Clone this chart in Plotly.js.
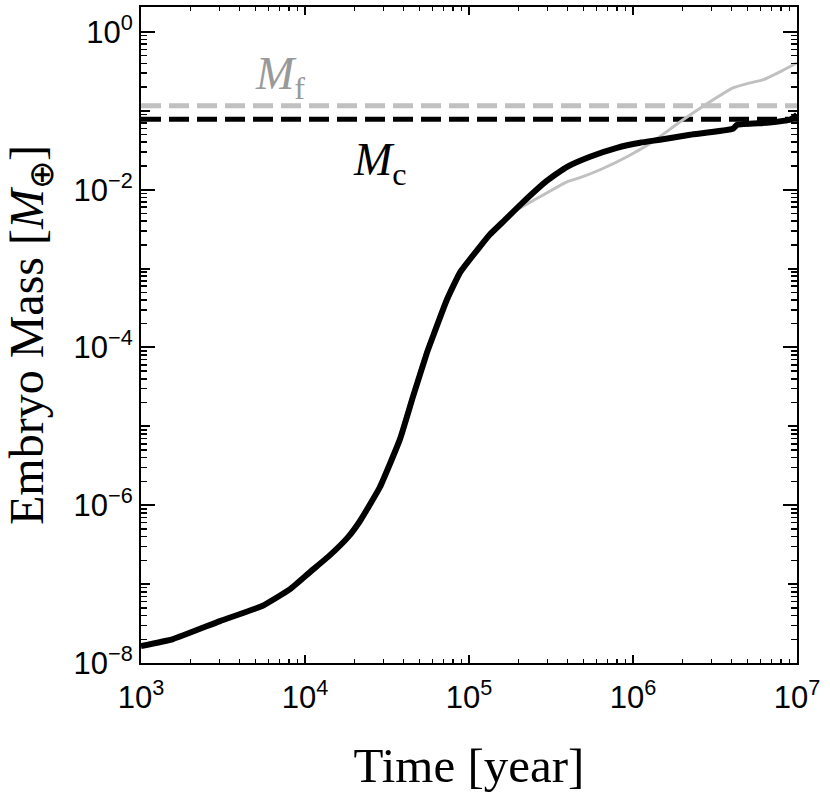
<!DOCTYPE html>
<html>
<head>
<meta charset="utf-8">
<script src="https://cdn.plot.ly/plotly-3.0.1.min.js"></script>
<style>
  body { margin: 0; background: #fff; }
  #graph { width: 830px; height: 797px; }
</style>
</head>
<body>
<div id="graph"></div>
<script>
// black curve (embryo mass vs time)
const timeBlack = [1000, 1567, 3033, 5470, 8110, 10720, 14200, 18300, 21600, 28600,
  37900, 45600, 55500, 60300, 73400, 88100, 116700, 134000, 161000, 213000, 299000,
  396000, 547000, 798000, 1104000, 1460000, 2230000, 4070000, 4310000, 6560000, 9060000, 10000000];
const massBlack = [1.64e-8, 2.01e-8, 3.40e-8, 5.27e-8, 8.65e-8, 1.42e-7, 2.33e-7, 3.94e-7, 6.27e-7, 1.69e-6,
  6.84e-6, 2.40e-5, 8.65e-5, 1.38e-4, 4.05e-4, 8.9e-4, 1.90e-3, 2.7e-3, 3.90e-3, 6.9e-3, 1.3e-2,
  1.95e-2, 2.62e-2, 3.40e-2, 3.94e-2, 4.30e-2, 4.97e-2, 5.92e-2, 6.65e-2, 7.05e-2, 7.69e-2, 8.9e-2];

// gray curve
const timeGray = [1000, 1567, 3033, 5470, 8110, 10720, 14200, 18300, 21600, 28600,
  37900, 45600, 55500, 73400, 88100, 116700, 161000, 185000, 271000, 396000,
  475000, 630000, 920000, 1320000, 1940000, 2950000, 4070000, 5170000, 6200000, 7870000, 10000000];
const massGray = [1.64e-8, 2.01e-8, 3.40e-8, 5.27e-8, 8.65e-8, 1.42e-7, 2.33e-7, 4.1e-7, 6.7e-7, 1.85e-6,
  7.6e-6, 2.7e-5, 9.6e-5, 4.5e-4, 9.6e-4, 1.95e-3, 3.8e-3, 5.11e-3, 8.15e-3, 1.26e-2,
  1.42e-2, 1.79e-2, 2.62e-2, 4.05e-2, 7.26e-2, 0.130, 0.195, 0.226, 0.247, 0.312, 0.405];

// critical masses
const massF = 0.1157;
const massC = 0.078;
const timeSpan = [1000, 10000000];

// axis ticks
const xTickVals = [1e3, 1e4, 1e5, 1e6, 1e7];
const xTickText = ['10<sup>3</sup>', '10<sup>4</sup>', '10<sup>5</sup>', '10<sup>6</sup>', '10<sup>7</sup>'];
const yTickVals = [1e-8, 1e-6, 1e-4, 1e-2, 1e0];
const yTickText = ['10<sup>\u22128</sup>', '10<sup>\u22126</sup>', '10<sup>\u22124</sup>', '10<sup>\u22122</sup>', '10<sup>0</sup>'];
const yMidVals = [1e-7, 1e-5, 1e-3, 1e-1];

function minorVals(lo, hi) {
  const out = [];
  for (let e = lo; e < hi; e++) {
    for (let k = 2; k <= 9; k++) out.push(k * Math.pow(10, e));
  }
  return out;
}

const traces = [
  { x: timeSpan, y: [massF, massF], type: 'scatter', mode: 'lines',
    line: { color: '#c0c0c0', width: 5, dash: '20px,8px' }, hoverinfo: 'skip' },
  { x: timeSpan, y: [massC, massC], type: 'scatter', mode: 'lines',
    line: { color: '#000', width: 5, dash: '20px,8px' }, hoverinfo: 'skip' },
  { x: timeGray, y: massGray, type: 'scatter', mode: 'lines',
    line: { color: '#c0c0c0', width: 3, shape: 'spline', smoothing: 0.4 } },
  { x: timeBlack, y: massBlack, type: 'scatter', mode: 'lines',
    line: { color: '#000', width: 6, shape: 'spline', smoothing: 0.4 } },
  { x: [], y: [], yaxis: 'y2', type: 'scatter', mode: 'lines', hoverinfo: 'skip' }
];

const tickFont = { family: 'Liberation Sans, Arial, sans-serif', size: 31, color: '#000' };
const titleFont = { family: 'Liberation Serif, Times New Roman, serif', size: 48, color: '#000' };

const layout = {
  width: 830,
  height: 797,
  margin: { l: 141, r: 33, t: 7, b: 134 },
  showlegend: false,
  paper_bgcolor: '#fff',
  plot_bgcolor: '#fff',
  xaxis: {
    type: 'log', range: [3, 7],
    tickmode: 'array', tickvals: xTickVals, ticktext: xTickText,
    ticks: 'inside', ticklen: 8, tickwidth: 2, tickcolor: '#000',
    minor: { tickvals: minorVals(3, 7), ticks: 'inside', ticklen: 4, tickwidth: 1.5, tickcolor: '#000', showgrid: false },
    showline: true, linewidth: 2, linecolor: '#000', mirror: 'ticks',
    showgrid: false, zeroline: false,
    tickfont: tickFont, ticklabelstandoff: 6,
    title: { text: 'Time [year]', font: { family: titleFont.family, size: 49, color: '#000' }, standoff: 33 }
  },
  yaxis: {
    type: 'log', range: [-8, 0.316],
    tickmode: 'array', tickvals: yTickVals, ticktext: yTickText,
    ticks: 'inside', ticklen: 14, tickwidth: 2, tickcolor: '#000',
    minor: { tickvals: minorVals(-8, 0), ticks: 'inside', ticklen: 6, tickwidth: 1.5, tickcolor: '#000', showgrid: false },
    showline: true, linewidth: 2, linecolor: '#000', mirror: 'ticks',
    showgrid: false, zeroline: false,
    tickfont: tickFont,
    title: { text: 'Embryo Mass [<i>M</i><sub>\u2295</sub>]', font: titleFont, standoff: 17 }
  },
  yaxis2: {
    type: 'log', range: [-8, 0.316], overlaying: 'y', side: 'left',
    tickmode: 'array', tickvals: yMidVals, showticklabels: false,
    ticks: 'inside', ticklen: 9, tickwidth: 2, tickcolor: '#000',
    showline: false, mirror: 'ticks', showgrid: false, zeroline: false
  },
  annotations: [
    { xref: 'paper', yref: 'paper', x: 0.17, y: 0.94, showarrow: false,
      text: '<i>M</i><sub>f</sub>', font: { family: 'Liberation Serif, serif', size: 46, color: '#999' } },
    { xref: 'paper', yref: 'paper', x: 0.364, y: 0.81, showarrow: false,
      text: '<i>M</i><sub>c</sub>', font: { family: 'Liberation Serif, serif', size: 46, color: '#000' } }
  ]
};

Plotly.newPlot('graph', traces, layout, { staticPlot: true });
</script>
</body>
</html>
